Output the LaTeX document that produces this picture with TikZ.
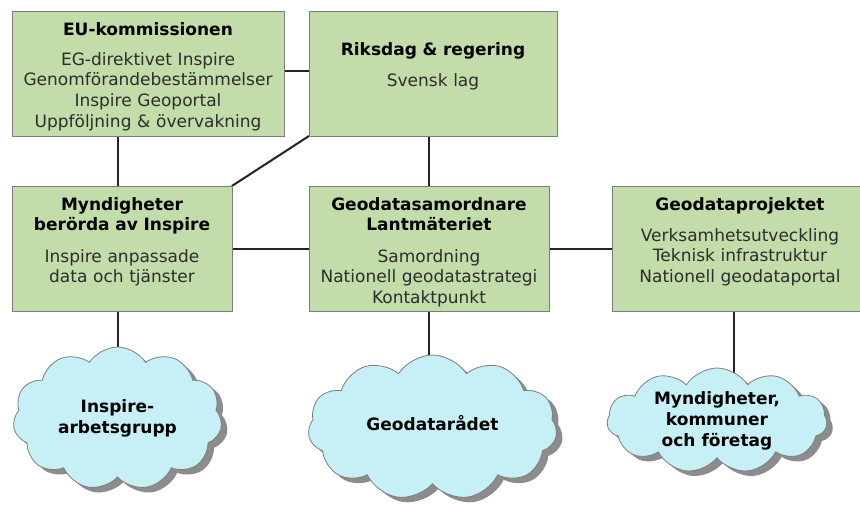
\documentclass[tikz,border=0pt]{standalone}
\usepackage{fontspec}
\setmainfont{DejaVu Sans}
\usetikzlibrary{shapes.symbols,shadows}
\definecolor{boxgreen}{RGB}{194,220,170}
\definecolor{boxline}{RGB}{125,125,125}
\definecolor{cloudfill}{RGB}{198,240,245}
\definecolor{bodytext}{RGB}{45,45,45}
\definecolor{linecol}{RGB}{35,35,35}
\pgfdeclarelayer{bg}
\pgfsetlayers{bg,main}
\begin{document}
\begin{tikzpicture}[x=1pt,y=-1pt,
  box/.style={rectangle, draw=boxline, line width=1pt, fill=boxgreen, inner sep=0pt, outer sep=0pt},
  titletext/.style={font=\fontsize{17}{20.7}\selectfont\bfseries, text width=262pt, align=center, anchor=base, inner sep=0pt},
  bodytxt/.style={font=\fontsize{17}{20.7}\selectfont, text=bodytext, text width=262pt, align=center, anchor=base, inner sep=0pt},
  cloudy/.style={cloud, cloud puffs=11, cloud puff arc=115, cloud ignores aspect, draw=boxline, line width=0.8pt, fill=cloudfill, inner sep=0pt, outer sep=0pt,
    drop shadow={shadow xshift=6pt, shadow yshift=-5pt, fill=black, opacity=0.45}},
  cloudtext/.style={font=\fontsize{17}{21}\selectfont\bfseries, align=center, inner sep=0pt},
  conn/.style={draw=linecol, line width=2pt}]
\useasboundingbox (0,0) rectangle (860,506);
\begin{scope}
\clip (0,0) rectangle (860,506);
% boxes
\node[box, minimum width=272pt, minimum height=125pt] (eu) at (148,73.5) {};
\node[box, minimum width=248pt, minimum height=125pt] (rik) at (433,73.5) {};
\node[box, minimum width=220pt, minimum height=125pt] (myn) at (122,248.5) {};
\node[box, minimum width=240pt, minimum height=125pt] (geo) at (429,248.5) {};
\node[box, minimum width=257pt, minimum height=125pt] (proj) at (740.5,248.5) {};
\end{scope}
% texts
\node[titletext] (eut) at (148,35) {EU-kommissionen};
\node[bodytxt] (eub) at (148,65) {EG-direktivet Inspire\\Genomförandebestämmelser\\Inspire Geoportal\\Uppföljning \& övervakning};
\node[titletext] (rikt) at (433,55) {Riksdag \& regering};
\node[bodytxt] (rikb) at (433,86) {Svensk lag};
\node[titletext] (mynt) at (122,210) {Myndigheter\\berörda av Inspire};
\node[bodytxt] (mynb) at (122,262) {Inspire anpassade\\data och tjänster};
\node[titletext] (geot) at (429,210) {Geodatasamordnare\\Lantmäteriet};
\node[bodytxt] (geob) at (429,262) {Samordning\\Nationell geodatastrategi\\Kontaktpunkt};
\node[titletext] (projt) at (740,210) {Geodataprojektet};
\node[bodytxt] (projb) at (740,241) {Verksamhetsutveckling\\Teknisk infrastruktur\\Nationell geodataportal};
% clouds
\node[cloudy, minimum width=209pt, minimum height=143pt] (c1) at (117.5,418.5) {};
\node[cloudy, minimum width=249pt, minimum height=145pt] (c2) at (432.5,427.5) {};
\node[cloudy, minimum width=220pt, minimum height=105pt] (c3) at (717,420.5) {};
\node[cloudtext] (c1t) at (c1.center) {Inspire-\\arbetsgrupp};
\node[cloudtext] (c2t) at ([yshift=4pt]c2.center) {Geodatarådet};
\node[cloudtext] (c3t) at (c3.center) {Myndigheter,\\kommuner\\och företag};
% connectors
\begin{pgfonlayer}{bg}
\draw[conn] ([yshift=2.5pt]eu.east) -- ([yshift=2.5pt]rik.west);
\draw[conn] ([xshift=-4pt]myn.north) -- ([xshift=-4pt]myn.north |- eu.south);
\draw[conn] (rik.south west) -- ([xshift=-0.1pt]myn.north east);
\draw[conn] (geo.north) -- (geo.north |- rik.south);
\draw[conn] (myn.east) -- (geo.west);
\draw[conn] (geo.east) -- (proj.west);
\draw[conn] ([xshift=-4pt]myn.south) -- ([xshift=-4pt]myn.south |- c1.center);
\draw[conn] (geo.south) -- (geo.south |- c2.center);
\draw[conn] ([xshift=-6.5pt]proj.south) -- ([xshift=-6.5pt]proj.south |- c3.center);
\end{pgfonlayer}
\end{tikzpicture}
\end{document}
